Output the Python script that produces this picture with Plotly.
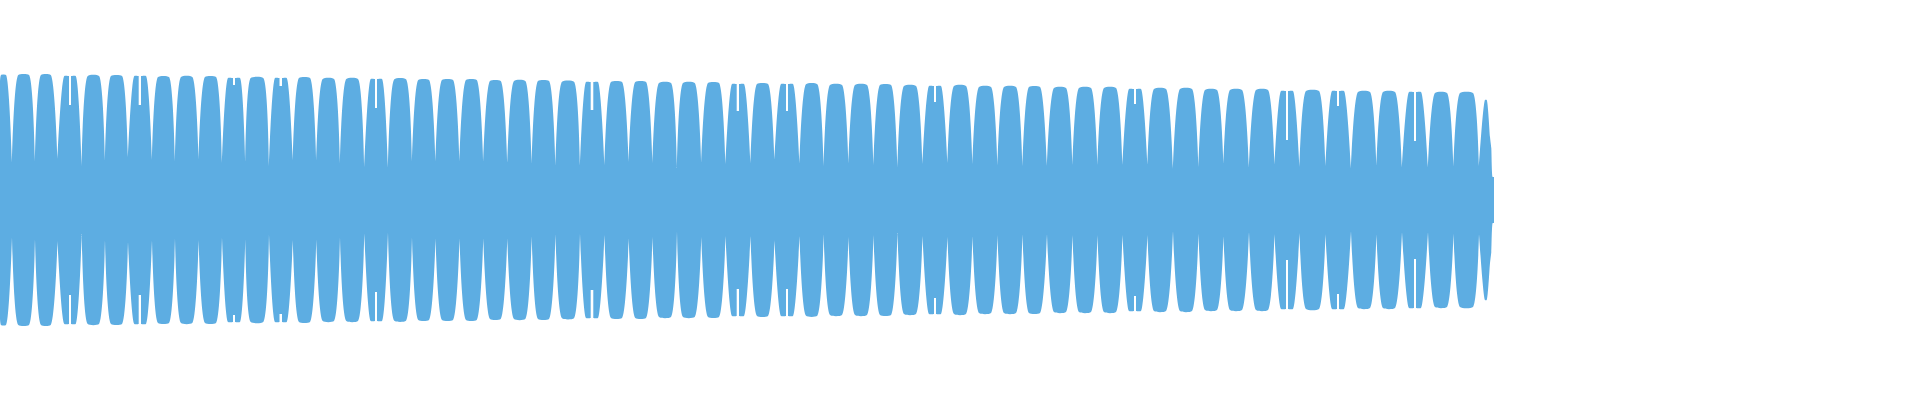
import plotly.graph_objects as go

# Envelope of the waveform (time in ms, amplitude)
# flat top of each lobe: start, end, amplitude
top_start = [1, 18.3, 41, 64.3, 87.7, 111, 134.3, 158, 181, 205, 228, 250.7, 275, 299,
             322.7, 346.3, 370.7, 394.3, 418.3, 442, 466, 490, 514, 538, 562, 586, 611,
             635.3, 659, 683, 708, 732, 757, 781, 806, 830, 855, 880, 904, 929, 954, 979,
             1004, 1029, 1054, 1079, 1104, 1129, 1154, 1180, 1205, 1230, 1256, 1281, 1306,
             1332, 1358, 1383, 1409, 1435, 1460, 1485]
top_end = [6, 29, 50.7, 75.7, 99, 122, 146, 169, 192.3, 216, 240, 263.3, 286.7, 310,
           334, 358, 382, 406, 429, 453, 476.7, 500.7, 525.3, 549, 574, 598, 622, 646,
           671, 694.7, 719, 744, 768, 793, 817.3, 842, 867, 891, 916, 941, 966, 991,
           1016, 1040, 1066, 1091, 1116, 1141, 1166, 1192, 1217, 1242, 1268, 1293, 1319,
           1344, 1370, 1395, 1421, 1447, 1473, 1486.7]
top_amp = [1.0, 1.0, 1.0, 0.992, 0.992, 0.992, 0.992, 0.984, 0.984, 0.984, 0.976, 0.976,
           0.976, 0.976, 0.968, 0.968, 0.968, 0.966, 0.96, 0.96, 0.96, 0.952, 0.952, 0.952,
           0.946, 0.944, 0.944, 0.944, 0.936, 0.936, 0.936, 0.928, 0.928, 0.928, 0.926,
           0.92, 0.92, 0.92, 0.912, 0.912, 0.912, 0.904, 0.904, 0.904, 0.896, 0.896, 0.896,
           0.888, 0.888, 0.888, 0.88, 0.88, 0.88, 0.872, 0.872, 0.872, 0.864, 0.864, 0.864,
           0.856, 0.856, 0.8]

# V-shaped gaps between lobes
trough_x = [12, 35, 57.5, 81.7, 105, 128, 152, 175, 198.6, 222, 245.3, 269, 292.8, 316.3,
            340, 364.3, 388, 412, 435.5, 459.5, 483.3, 507.3, 531.7, 555.5, 580, 604.5,
            628.7, 652.5, 677, 701.3, 725.5, 750.5, 774.5, 799.5, 823.7, 848.5, 873.5,
            897.5, 922.5, 947.5, 972.5, 997.5, 1022.5, 1047, 1072.5, 1097.5, 1122.5,
            1147.5, 1173, 1198.5, 1223.5, 1249, 1274.5, 1299.5, 1325.5, 1351, 1376.5,
            1402, 1428, 1453.5, 1479]
trough_amp = [0.298, 0.312, 0.328, 0.266, 0.32, 0.336, 0.32, 0.306, 0.32, 0.298, 0.312,
              0.272, 0.32, 0.314, 0.296, 0.266, 0.256, 0.296, 0.306, 0.306, 0.306, 0.306,
              0.288, 0.272, 0.266, 0.28, 0.306, 0.296, 0.248, 0.296, 0.288, 0.288, 0.32,
              0.288, 0.272, 0.296, 0.28, 0.258, 0.288, 0.296, 0.288, 0.28, 0.272, 0.272,
              0.28, 0.28, 0.28, 0.28, 0.248, 0.266, 0.288, 0.256, 0.272, 0.264, 0.272,
              0.248, 0.272, 0.256, 0.256, 0.266, 0.272]

# split lobes (narrow notch in the middle of the top)
notch_lobe = [3, 6, 10, 12, 16, 25, 31, 33, 39, 47, 53, 55, 58]
notch_start = [69, 138.7, 233, 279.5, 375, 590.7, 736.7, 786, 934, 1134, 1286, 1337, 1414]
notch_end = [71, 141, 235, 282, 377, 593.3, 739, 788, 936, 1136, 1288, 1339, 1416]
notch_amp = [0.76, 0.76, 0.92, 0.912, 0.736, 0.72, 0.712, 0.712, 0.784, 0.768, 0.48, 0.752, 0.472]

# first and last samples
head_x = [0]
head_amp = [0.504]
tail_x = [1490, 1491.3, 1492.7, 1494]
tail_amp = [0.504, 0.416, 0.184, 0.184]

# upper outline; corner points are listed twice so the spline keeps them sharp
ux, uy = [], []


def corner(x, y):
    ux.extend([x, x])
    uy.extend([y, y])


corner(head_x[0], head_amp[0])
for i in range(len(top_start)):
    ux.append(top_start[i])
    uy.append(top_amp[i])
    if i in notch_lobe:
        k = notch_lobe.index(i)
        corner(notch_start[k], top_amp[i])
        corner(notch_start[k], notch_amp[k])
        corner(notch_end[k], notch_amp[k])
        corner(notch_end[k], top_amp[i])
    ux.append(top_end[i])
    uy.append(top_amp[i])
    if i < len(trough_x):
        corner(trough_x[i], trough_amp[i])
ux += tail_x[:-1]
uy += tail_amp[:-1]
corner(tail_x[-1], tail_amp[-1])

# closed shape: upper edge forward, mirrored lower edge back
xs = ux + ux[::-1]
ys = uy + [-v for v in uy[::-1]]

blue = "#5DADE2"

fig = go.Figure()
fig.add_trace(go.Scatter(x=xs, y=ys, mode="lines", fill="toself",
                         fillcolor=blue,
                         line=dict(color=blue, width=0, shape="spline",
                                   smoothing=0.55, simplify=False),
                         hoverinfo="skip", showlegend=False))

fig.update_layout(
    width=1920, height=400,
    margin=dict(l=0, r=0, t=0, b=0),
    paper_bgcolor="white", plot_bgcolor="white",
    xaxis=dict(range=[0, 1920], visible=False, fixedrange=True),
    yaxis=dict(range=[-1.6, 1.6], visible=False, fixedrange=True),
)

# page without the default body margin so the plot sits at the window corner
fig.write_html("out.html", config={"displayModeBar": False},
               post_script="document.body.style.margin='0';")
